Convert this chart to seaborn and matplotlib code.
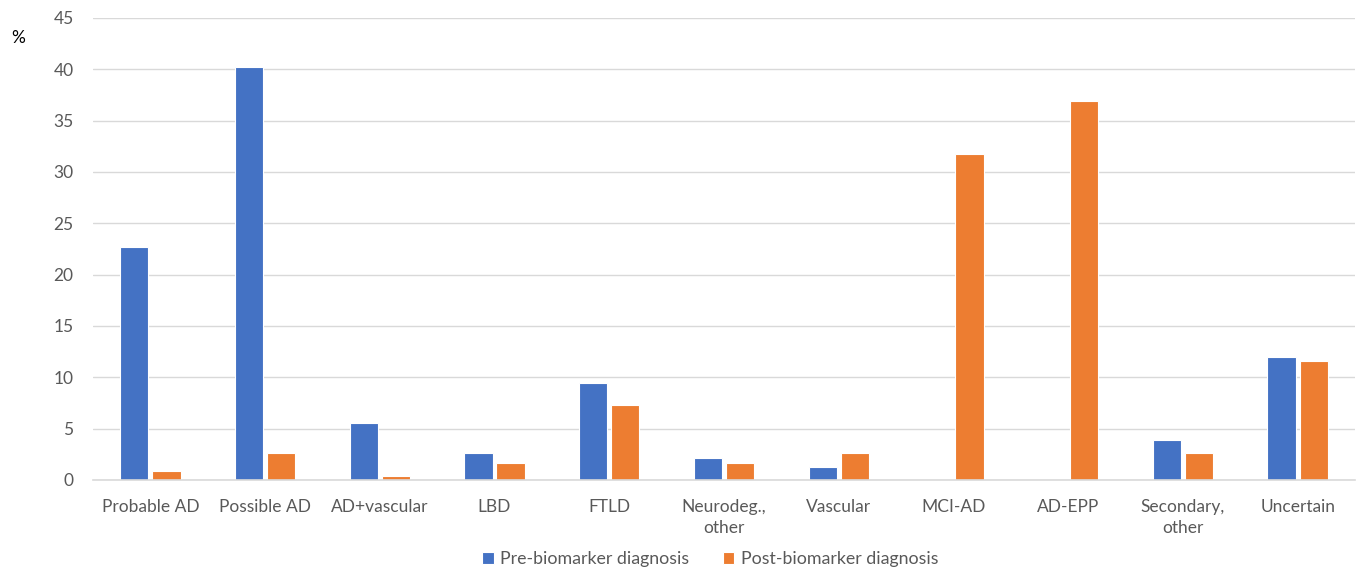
import pandas as pd
import seaborn as sns
import matplotlib.pyplot as plt

categories = ["Probable AD", "Possible AD", "AD+vascular", "LBD", "FTLD",
              "Neurodeg.,\nother", "Vascular", "MCI-AD", "AD-EPP",
              "Secondary,\nother", "Uncertain"]
pre_values = [22.7, 40.2, 5.6, 2.6, 9.4, 2.1, 1.3, 0.0, 0.0, 3.9, 12.0]
post_values = [0.9, 2.6, 0.4, 1.7, 7.3, 1.7, 2.6, 31.8, 36.9, 2.6, 11.6]
series_names = ["Pre-biomarker diagnosis", "Post-biomarker diagnosis"]
yticks = [0, 5, 10, 15, 20, 25, 30, 35, 40, 45]

df = pd.DataFrame({
    "Category": categories * 2,
    "Value": pre_values + post_values,
    "Series": [series_names[0]] * len(categories) + [series_names[1]] * len(categories),
})

sns.set_style("white")
plt.rcParams['font.family'] = ['Lato', 'DejaVu Sans']

fig = plt.figure(figsize=(13.57, 5.70), dpi=100)
ax = fig.add_axes([93 / 1357, 1 - 480 / 570, (1355 - 93) / 1357, (480 - 18) / 570])

sns.barplot(data=df, x="Category", y="Value", hue="Series", order=categories,
            hue_order=series_names, palette=["#4472C4", "#ED7D31"], saturation=1,
            width=0.56, gap=0.12, edgecolor="white", linewidth=0.8, ax=ax)

ax.set_ylim(0, 45)
ax.set_yticks(yticks)
ax.set_xlim(-0.5, len(categories) - 0.5)
ax.yaxis.grid(True, color="#D9D9D9", linewidth=1)
ax.set_axisbelow(True)
for side in ["left", "right", "top"]:
    ax.spines[side].set_visible(False)
ax.spines["bottom"].set_color("#D9D9D9")
ax.spines["bottom"].set_linewidth(1.2)
ax.tick_params(axis="both", length=0, colors="#595959", labelsize=12.5)
ax.tick_params(axis="y", pad=14)
ax.tick_params(axis="x", pad=14)
for lbl in ax.get_xticklabels():
    lbl.set_linespacing(1.35)
ax.set_xlabel("")
ax.set_ylabel("")

fig.text(18 / 1357, 1 - 38 / 570, "%", fontsize=12.5, color="black", ha="center", va="center")

ax.legend(loc="center", bbox_to_anchor=(0.489, (480 - 559) / 462), ncol=2,
          frameon=False, fontsize=12.8, labelcolor="#595959", handlelength=0.65,
          handleheight=0.65, handletextpad=0.35, columnspacing=1.9)

fig.savefig("out.png", dpi=100)
